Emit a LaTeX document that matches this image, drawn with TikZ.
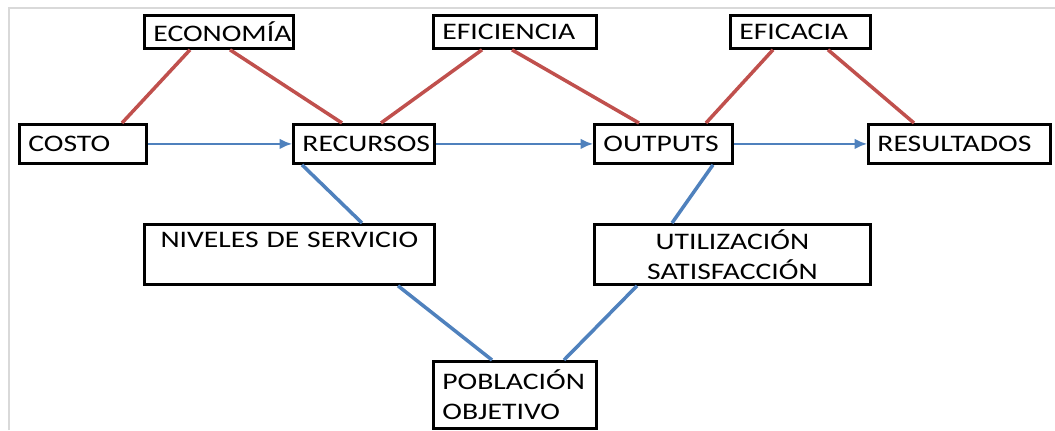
\documentclass[tikz,border=0pt]{standalone}
\usepackage{fontspec}
\setmainfont{Carlito}[FakeStretch=1.25]
\usepackage{tikz}
\usetikzlibrary{arrows.meta}

\definecolor{rojo}{HTML}{C0504D}
\definecolor{azul}{HTML}{4F81BD}

\begin{document}
\begin{tikzpicture}[x=0.02cm, y=-0.02cm,
  caja/.style={draw, line width=1.6pt, anchor=north west, inner xsep=0.18cm, inner ysep=0pt, align=left,
    font=\fontsize{13.5}{17}\selectfont},
  rojo/.style={draw=rojo, line width=2pt},
  azul/.style={draw=azul, line width=2pt},
  flecha/.style={draw=azul, line width=1.1pt, -{Latex[length=7pt,width=6pt]}}]
\useasboundingbox (0,0) rectangle (1055,430);
\draw[gray!30, line width=0.8pt] (9,430) -- (9,8) -- (1055,8);

\node[caja, minimum width=2.98cm, text width=2.62cm, minimum height=0.66cm] (economia) at (143,14) {ECONOMÍA};
\node[caja, minimum width=3.26cm, text width=2.90cm, minimum height=0.66cm] (eficiencia) at (432,14) {EFICIENCIA};
\node[caja, minimum width=2.80cm, text width=2.44cm, minimum height=0.66cm] (eficacia) at (729,14) {EFICACIA};
\node[caja, minimum width=2.54cm, text width=2.18cm, minimum height=0.78cm] (costo) at (18,123) {COSTO};
\node[caja, minimum width=2.82cm, text width=2.46cm, minimum height=0.78cm] (recursos) at (292,123) {RECURSOS};
\node[caja, minimum width=2.76cm, text width=2.40cm, minimum height=0.78cm] (outputs) at (593,123) {OUTPUTS};
\node[caja, minimum width=3.64cm, text width=3.28cm, minimum height=0.78cm] (resultados) at (867,123) {RESULTADOS};
\node[caja, align=center, minimum width=5.80cm, text width=5.44cm, minimum height=1.2cm] (niveles) at (143,223) {NIVELES DE SERVICIO\\\mbox{}};
\node[caja, align=center, minimum width=5.52cm, text width=5.16cm, minimum height=1.2cm] (utilizacion) at (593,223) {UTILIZACIÓN\\SATISFACCIÓN};
\node[caja, minimum width=3.26cm, text width=2.90cm, minimum height=1.34cm] (poblacion) at (432,360) {POBLACIÓN\\OBJETIVO};

\draw[flecha] (costo) -- (recursos);
\draw[flecha] (recursos) -- (outputs);
\draw[flecha] (outputs) -- (resultados);

\draw[rojo] ([shift={(47,0)}]economia.south west) -- ([shift={(104,0)}]costo.north west);
\draw[rojo] ([shift={(87,0)}]economia.south west) -- ([shift={(50,0)}]recursos.north west);
\draw[rojo] ([shift={(50,0)}]eficiencia.south west) -- ([shift={(89,0)}]recursos.north west);
\draw[rojo] ([shift={(80,0)}]eficiencia.south west) -- ([shift={(46,0)}]outputs.north west);
\draw[rojo] ([shift={(44,0)}]eficacia.south west) -- ([shift={(113,0)}]outputs.north west);
\draw[rojo] ([shift={(99,0)}]eficacia.south west) -- ([shift={(47,0)}]resultados.north west);

\draw[azul] ([shift={(10,0)}]recursos.south west) -- ([shift={(219,0)}]niveles.north west);
\draw[azul] ([shift={(120,0)}]outputs.south west) -- ([shift={(79,0)}]utilizacion.north west);
\draw[azul] ([shift={(255,0)}]niveles.south west) -- ([shift={(60,0)}]poblacion.north west);
\draw[azul] ([shift={(44,0)}]utilizacion.south west) -- ([shift={(132,0)}]poblacion.north west);
\end{tikzpicture}
\end{document}
